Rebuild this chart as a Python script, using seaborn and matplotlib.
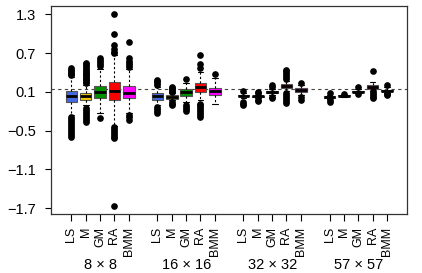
import matplotlib
matplotlib.use("Agg")
import matplotlib.pyplot as plt
import seaborn as sns

# methods and grid sizes
methods = ["LS", "M", "GM", "RA", "BMM"]
grids = ["8 × 8", "16 × 16", "32 × 32", "57 × 57"]
colors = ["#4169E1", "#F0C800", "#009000", "#FF0000", "#FF00FF"]

# box statistics: whislo, q1, med, q3, whishi
stats_8 = [
    [-0.26, -0.06, 0.03, 0.12, 0.33],
    [-0.10, -0.02, 0.03, 0.09, 0.21],
    [-0.23, 0.00, 0.105, 0.19, 0.46],
    [-0.42, -0.02, 0.12, 0.255, 0.67],
    [-0.22, 0.00, 0.09, 0.19, 0.45],
]
stats_16 = [
    [-0.10, -0.02, 0.03, 0.08, 0.18],
    [-0.03, -0.01, 0.02, 0.05, 0.08],
    [-0.05, 0.04, 0.095, 0.14, 0.24],
    [-0.03, 0.105, 0.17, 0.24, 0.41],
    [-0.09, 0.05, 0.12, 0.16, 0.32],
]
stats_32 = [
    [0.00, 0.03, 0.04, 0.05, 0.08],
    [0.00, 0.02, 0.03, 0.04, 0.06],
    [0.05, 0.08, 0.095, 0.11, 0.15],
    [0.11, 0.16, 0.19, 0.22, 0.27],
    [0.05, 0.095, 0.13, 0.16, 0.20],
]
stats_57 = [
    [-0.01, 0.01, 0.02, 0.03, 0.05],
    [0.02, 0.03, 0.04, 0.045, 0.06],
    [0.08, 0.095, 0.105, 0.115, 0.15],
    [0.12, 0.15, 0.18, 0.20, 0.26],
    [0.08, 0.11, 0.12, 0.13, 0.17],
]

# outlying points
fliers_8 = [
    [0.36, 0.38, 0.40, 0.42, 0.44, 0.47, -0.29, -0.32, -0.35, -0.38, -0.41, -0.44, -0.47, -0.50, -0.53, -0.56, -0.59],
    [0.24, 0.26, 0.28, 0.30, 0.32, 0.34, 0.36, 0.38, 0.40, 0.42, 0.44, 0.47, 0.50, 0.53, 0.55,
     -0.15, -0.18, -0.21, -0.24, -0.27, -0.30, -0.33, -0.37],
    [0.50, 0.53, 0.56, 0.59, 0.62, -0.30],
    [0.70, 0.72, 0.76, 0.83, 1.00, 1.31, -0.45, -0.48, -0.51, -0.54, -0.57, -0.60, -0.62, -1.67],
    [0.49, 0.52, 0.55, 0.58, 0.62, 0.87, -0.26, -0.29, -0.33],
]
fliers_16 = [
    [0.21, 0.24, 0.27, 0.29, -0.13, -0.16, -0.19, -0.22],
    [0.10, 0.12, 0.14, 0.16, 0.18, -0.05, -0.08, -0.11],
    [0.30, -0.10, -0.13, -0.16, -0.20],
    [0.47, 0.54, 0.67, -0.08, -0.11, -0.14, -0.17, -0.20, -0.23, -0.26, -0.29],
    [0.38],
]
fliers_32 = [
    [0.12, -0.05, -0.08, -0.10],
    [0.08, 0.10, -0.02, -0.04],
    [0.18, 0.21, 0.02, 0.00],
    [0.30, 0.33, 0.36, 0.39, 0.42, 0.44, 0.08, 0.05, 0.02, -0.01, -0.04, -0.07],
    [0.24, 0.02, -0.02],
]
fliers_57 = [
    [0.09, -0.03, -0.05],
    [0.07],
    [0.17, 0.07],
    [0.43, 0.11, 0.08, 0.05, 0.02, 0.00],
    [0.21, 0.05, 0.07],
]

ref_line = 0.14
yticks = [-1.7, -1.1, -0.5, 0.1, 0.7, 1.3]

sns.set_style("white")
plt.rcParams['font.family'] = ['Liberation Sans', 'DejaVu Sans']
plt.rcParams['text.color'] = 'black'
plt.rcParams['xtick.color'] = 'black'
plt.rcParams['ytick.color'] = 'black'

fig = plt.figure(figsize=(4.22, 2.73), dpi=100)
ax = fig.add_axes([0.121, 0.216, 0.844, 0.762])

all_stats = [stats_8, stats_16, stats_32, stats_57]
all_fliers = [fliers_8, fliers_16, fliers_32, fliers_57]

bxp_stats = []
positions = []
box_colors = []
for g in range(4):
    for m in range(5):
        lo, q1, med, q3, hi = all_stats[g][m]
        bxp_stats.append(dict(whislo=lo, q1=q1, med=med, q3=q3, whishi=hi,
                              fliers=all_fliers[g][m]))
        positions.append(g * 6 + m + 1)
        box_colors.append(colors[m])

ax.axhline(ref_line, color="#444444", lw=0.8, ls=(0, (3, 3)), zorder=0)

bp = ax.bxp(bxp_stats, positions=positions, widths=0.8, capwidths=0.4,
            patch_artist=True, showfliers=True,
            boxprops=dict(edgecolor="#555555", linewidth=0.8),
            medianprops=dict(color="black", linewidth=2),
            whiskerprops=dict(color="black", linewidth=0.8, linestyle=(0, (2, 2))),
            capprops=dict(color="black", linewidth=0.8),
            flierprops=dict(marker="o", markerfacecolor="black", markeredgecolor="black",
                            markersize=3.8, linestyle="none"))
for patch, c in zip(bp["boxes"], box_colors):
    patch.set_facecolor(c)

ax.set_xlim(-0.42, 24.42)
ax.set_ylim(-1.79, 1.43)
ax.set_yticks(yticks)
ax.set_yticklabels([str(v).replace("-", "\u2212") for v in yticks], fontsize=10.5)
ax.set_xticks(positions)
ax.set_xticklabels(methods * 4, rotation=90, fontsize=9)
ax.tick_params(axis="y", direction="out", length=4, width=0.8, left=True, pad=7)
ax.tick_params(axis="x", direction="out", length=5, width=0.8, bottom=True, pad=4)

for spine in ax.spines.values():
    spine.set_color("#333333")
    spine.set_linewidth(0.9)

trans = ax.get_xaxis_transform()
for g in range(4):
    ax.text(g * 6 + 3, -0.245, grids[g], transform=trans, ha="center", va="center",
            fontsize=10.5)

fig.savefig("out.png", dpi=100)
